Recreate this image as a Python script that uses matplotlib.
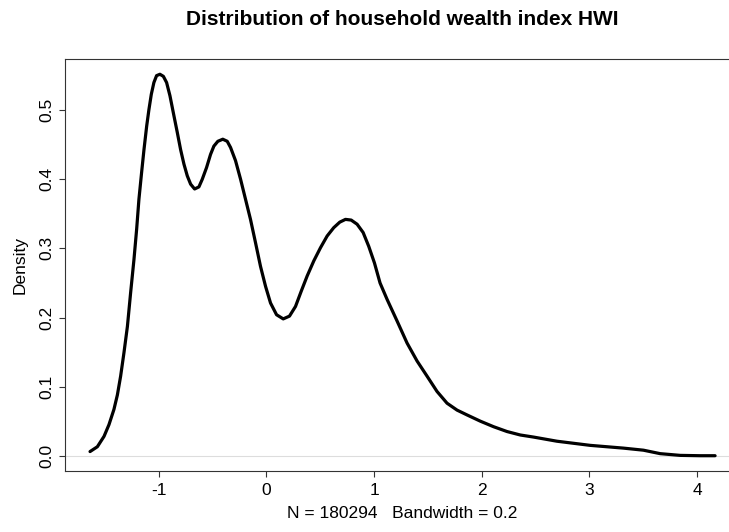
import matplotlib
matplotlib.use("Agg")
import matplotlib.pyplot as plt

plt.rcParams['font.family'] = ['Liberation Sans', 'DejaVu Sans']

# density curve of HWI
hwi = [-1.637, -1.569, -1.507, -1.461, -1.415, -1.383, -1.353, -1.322, -1.290,
       -1.260, -1.229, -1.204, -1.183, -1.158, -1.136, -1.111, -1.090, -1.068,
       -1.044, -1.019, -0.988, -0.956, -0.926, -0.895, -0.858, -0.827, -0.796,
       -0.765, -0.734, -0.703, -0.666, -0.626, -0.595, -0.555, -0.518, -0.487,
       -0.450, -0.404, -0.363, -0.332, -0.286, -0.239, -0.193, -0.147, -0.100,
       -0.054, -0.007, 0.039, 0.095, 0.157, 0.215, 0.271, 0.324, 0.379, 0.441,
       0.503, 0.565, 0.626, 0.682, 0.735, 0.788, 0.843, 0.899, 0.951, 1.004,
       1.056, 1.122, 1.214, 1.307, 1.400, 1.493, 1.585, 1.678, 1.771, 1.864,
       1.987, 2.110, 2.235, 2.358, 2.481, 2.698, 3.007, 3.316, 3.502, 3.657,
       3.843, 4.028, 4.167]
density = [0.006, 0.013, 0.028, 0.045, 0.067, 0.088, 0.115, 0.149, 0.187,
           0.236, 0.284, 0.328, 0.371, 0.410, 0.443, 0.477, 0.501, 0.523,
           0.540, 0.550, 0.552, 0.549, 0.540, 0.521, 0.492, 0.468, 0.443,
           0.422, 0.405, 0.393, 0.386, 0.389, 0.400, 0.417, 0.436, 0.448,
           0.455, 0.458, 0.455, 0.446, 0.427, 0.400, 0.371, 0.342, 0.308,
           0.274, 0.245, 0.221, 0.204, 0.198, 0.202, 0.216, 0.238, 0.260, 0.282,
           0.301, 0.318, 0.330, 0.338, 0.342, 0.341, 0.335, 0.323, 0.303, 0.279,
           0.250, 0.226, 0.195, 0.163, 0.137, 0.115, 0.093, 0.076, 0.066, 0.059,
           0.050, 0.042, 0.035, 0.030, 0.027, 0.021, 0.015, 0.011, 0.008, 0.003,
           0.0005, 0.0, 0.0]

x_ticks = [-1, 0, 1, 2, 3, 4]
y_ticks = [0.0, 0.1, 0.2, 0.3, 0.4, 0.5]

fig = plt.figure(figsize=(7.29, 5.32), dpi=100)
# the right edge of the plot box falls outside the picture, as in the reference
ax = fig.add_axes([0.0892, 0.1147, 0.926, 0.7744])

ax.axhline(0, color='#dddddd', lw=0.8, zorder=1)
ax.plot(hwi, density, color='black', lw=2.3, solid_capstyle='round',
        solid_joinstyle='round', zorder=2)

# R style 4% padding around the data range
xr = hwi[-1] - hwi[0]
yr = max(density)
ax.set_xlim(hwi[0] - 0.04 * xr, hwi[-1] + 0.04 * xr)
ax.set_ylim(-0.04 * yr, 1.04 * yr)

ax.set_xticks(x_ticks)
ax.set_xticklabels([str(v) for v in x_ticks])
ax.set_yticks(y_ticks)
ax.set_yticklabels([f'{v:.1f}' for v in y_ticks], rotation=90, va='center')
ax.tick_params(direction='out', length=4, width=0.8, labelsize=12.5,
               color='#333333')
ax.tick_params(axis='x', pad=4.5)
ax.tick_params(axis='y', pad=4)

for s in ax.spines.values():
    s.set_color('#333333')
    s.set_linewidth(0.8)

ax.set_xlabel('N = 180294   Bandwidth = 0.2', fontsize=12.5, labelpad=6)
ax.set_ylabel('Density', fontsize=12.5, labelpad=8)
fig.text(0.552, 0.964, 'Distribution of household wealth index HWI',
         ha='center', va='center', fontsize=15, fontweight='bold')

fig.savefig('out.png', dpi=100)
